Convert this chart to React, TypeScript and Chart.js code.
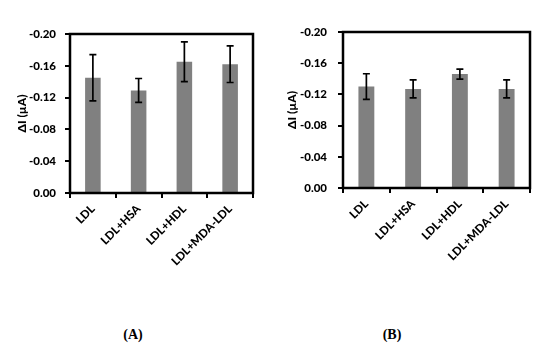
import React, { useEffect, useRef } from "react";
import { Chart, registerables } from "chart.js";

Chart.register(...registerables);

const categories = ["LDL", "LDL+HSA", "LDL+HDL", "LDL+MDA-LDL"];
const valuesA = [-0.145, -0.129, -0.165, -0.162];
const errorsA = [0.029, 0.015, 0.025, 0.023];
const valuesB = [-0.13, -0.127, -0.146, -0.127];
const errorsB = [0.0165, 0.0115, 0.0065, 0.0115];
const yMin = -0.2;
const yMax = 0;
const yStep = 0.04;
const yTitle = "ΔI (µA)";
const panelLabels = ["(A)", "(B)"];

const FONT = "Lato, 'Open Sans', sans-serif";
const FW = "900";
const FS = 11.5;

const errorBarPlugin = {
  id: "errorBars",
  afterDatasetsDraw(chart: any, _args: any, opts: any) {
    const errs: number[] = opts.errors || [];
    const meta = chart.getDatasetMeta(0);
    const ys = chart.scales.y;
    const data = chart.data.datasets[0].data as number[];
    const ctx = chart.ctx;
    ctx.save();
    ctx.strokeStyle = "#000";
    ctx.lineWidth = 1.7;
    meta.data.forEach((bar: any, i: number) => {
      const v = data[i];
      const e = errs[i] || 0;
      const y1 = ys.getPixelForValue(v - e);
      const y2 = ys.getPixelForValue(v + e);
      const x = bar.x;
      const cap = 3.5;
      ctx.beginPath();
      ctx.moveTo(x, y1);
      ctx.lineTo(x, y2);
      ctx.moveTo(x - cap, y1);
      ctx.lineTo(x + cap, y1);
      ctx.moveTo(x - cap, y2);
      ctx.lineTo(x + cap, y2);
      ctx.stroke();
    });
    ctx.restore();
  },
};

const boxPlugin = {
  id: "plotBox",
  afterDraw(chart: any) {
    const { left, top, right, bottom } = chart.chartArea;
    const ctx = chart.ctx;
    ctx.save();
    ctx.strokeStyle = "#000";
    ctx.lineWidth = 2.5;
    ctx.strokeRect(left, top, right - left, bottom - top);
    ctx.restore();
  },
};

type PanelProps = {
  values: number[];
  errors: number[];
  left: number;
  areaLeft: number;
  areaRight: number;
  areaTop: number;
  areaBottom: number;
  titlePad: number;
  tickPad: number;
};

const W = 275;
const H = 280;

function Panel(p: PanelProps) {
  const ref = useRef<HTMLCanvasElement>(null);
  useEffect(() => {
    if (!ref.current) return;
    const font = { family: FONT, size: FS, weight: FW };
    const chart = new Chart(ref.current, {
      type: "bar",
      data: {
        labels: categories,
        datasets: [
          {
            data: p.values,
            backgroundColor: "#808080",
            borderWidth: 0,
            barPercentage: 0.34,
            categoryPercentage: 1,
          },
        ],
      },
      plugins: [errorBarPlugin, boxPlugin],
      options: {
        responsive: false,
        animation: false,
        devicePixelRatio: 1,
        layout: {
          padding: { left: 0, top: p.areaTop, right: W - p.areaRight, bottom: 0 },
        },
        plugins: {
          legend: { display: false },
          tooltip: { enabled: false },
          errorBars: { errors: p.errors },
        } as any,
        scales: {
          x: {
            grid: {
              offset: true,
              drawOnChartArea: false,
              drawTicks: true,
              tickLength: 5,
              color: "#000",
              lineWidth: 2,
            },
            border: { display: false },
            ticks: {
              minRotation: 45,
              maxRotation: 45,
              padding: 4,
              color: "#000",
              font,
            },
            afterFit: (s: any) => {
              s.height = H - p.areaBottom;
            },
          },
          y: {
            min: yMin,
            max: yMax,
            reverse: true,
            grid: {
              drawOnChartArea: false,
              drawTicks: true,
              tickLength: 5,
              color: "#000",
              lineWidth: 2,
            },
            border: { display: false },
            ticks: {
              stepSize: yStep,
              padding: p.tickPad,
              color: "#000",
              font,
              callback: (v: any) => Number(v).toFixed(2),
            },
            title: {
              display: true,
              text: yTitle,
              color: "#000",
              padding: { top: p.titlePad, bottom: 0 },
              font: { family: FONT, size: 12, weight: FW },
            },
            afterFit: (s: any) => {
              s.width = p.areaLeft;
            },
          },
        },
      } as any,
    });
    return () => chart.destroy();
  }, []);
  return (
    <canvas
      ref={ref}
      width={W}
      height={H}
      style={{ position: "absolute", left: p.left, top: 0, width: W, height: H }}
    />
  );
}

const labelStyle: React.CSSProperties = {
  position: "absolute",
  top: 335,
  transform: "translate(-50%, -50%)",
  fontFamily: "'Liberation Serif', serif",
  fontWeight: "bold",
  fontSize: 14,
  color: "#000",
  whiteSpace: "nowrap",
};

export default function App() {
  return (
    <div
      style={{
        position: "fixed",
        left: 0,
        top: 0,
        width: 550,
        height: 347,
        background: "#fff",
        overflow: "hidden",
      }}
    >
      <Panel
        values={valuesA}
        errors={errorsA}
        left={0}
        areaLeft={70}
        areaRight={253}
        areaTop={34}
        areaBottom={193}
        titlePad={15}
        tickPad={9}
      />
      <Panel
        values={valuesB}
        errors={errorsB}
        left={275}
        areaLeft={68}
        areaRight={255}
        areaTop={32}
        areaBottom={188}
        titlePad={10}
        tickPad={11}
      />
      <div style={{ ...labelStyle, left: 133 }}>{panelLabels[0]}</div>
      <div style={{ ...labelStyle, left: 392 }}>{panelLabels[1]}</div>
    </div>
  );
}
